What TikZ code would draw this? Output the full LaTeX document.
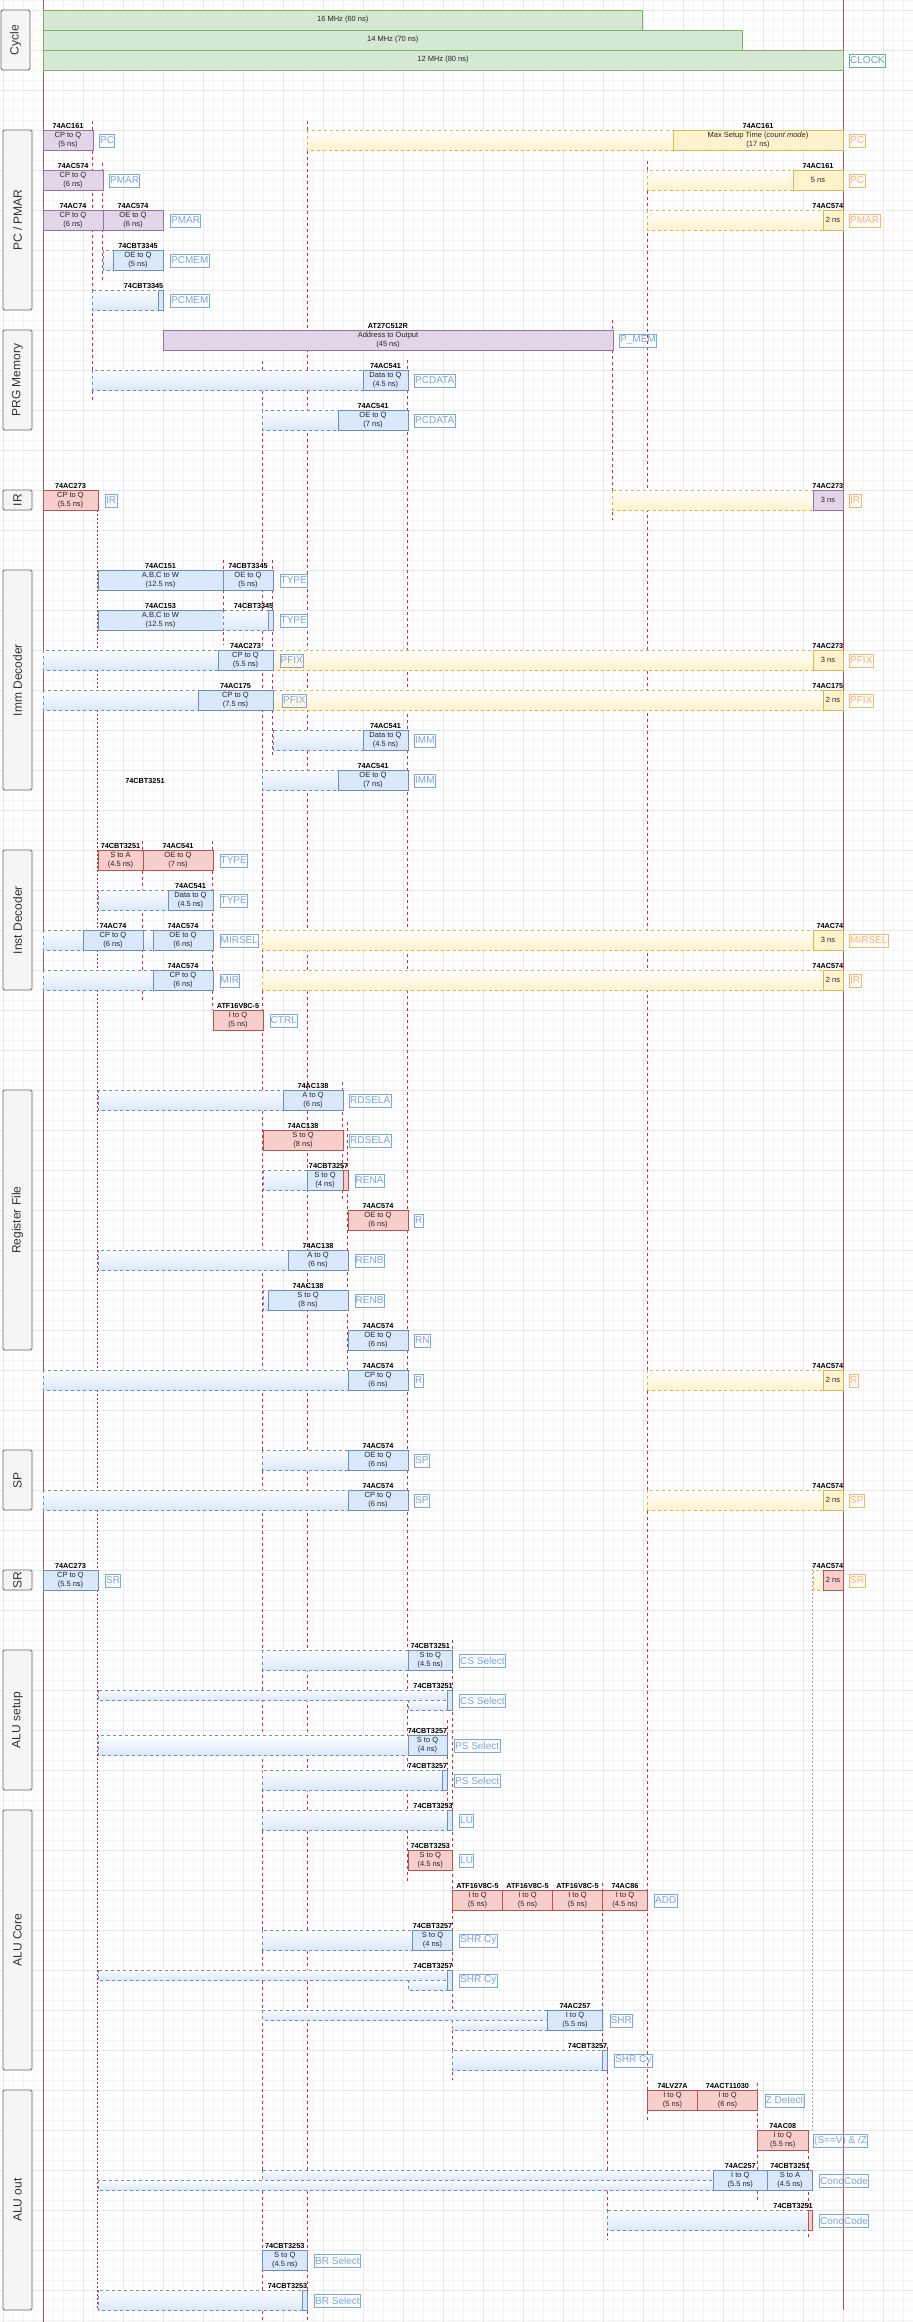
\documentclass[tikz,border=0pt]{standalone}
\usepackage{fontspec}
\setmainfont{Liberation Sans}
\setsansfont{Liberation Sans}
\definecolor{bfill}{HTML}{DAE8FC}\definecolor{bline}{HTML}{6C8EBF}
\definecolor{yfill}{HTML}{FFF2CC}\definecolor{yline}{HTML}{D6B656}
\definecolor{pfill}{HTML}{E1D5E7}\definecolor{pline}{HTML}{9673A6}
\definecolor{rfill}{HTML}{F8CECC}\definecolor{rline}{HTML}{B85450}
\definecolor{gfill}{HTML}{D5E8D4}\definecolor{gline}{HTML}{82B366}
\definecolor{lblue}{HTML}{7EA6E0}\definecolor{lorange}{HTML}{FFB570}
\definecolor{lteal}{HTML}{67AB9F}
\definecolor{lanefill}{HTML}{F5F5F5}\definecolor{laneline}{HTML}{666666}
\definecolor{lanetext}{HTML}{333333}
\definecolor{vred}{HTML}{D03030}
\tikzset{
  gminor/.style={draw=black!4, line width=0.5pt},
  gmajor/.style={draw=black!9, line width=0.6pt},
  tbx/.style={line width=0.8pt},
  boxbl/.style={fill=bfill, draw=bline},
  boxye/.style={fill=yfill, draw=yline},
  boxpu/.style={fill=pfill, draw=pline},
  boxre/.style={fill=rfill, draw=rline},
  boxgr/.style={fill=gfill, draw=gline},
  txt/.style={font=\fontsize{7.5}{9}\selectfont, align=center, inner sep=0pt, text=black!85},
  hdr/.style={font=\bfseries\fontsize{7.3}{8}\selectfont, inner sep=1pt, anchor=south},
  lab/.style={font=\fontsize{10}{11}\selectfont, inner xsep=0.8pt, inner ysep=0pt, minimum height=13pt, line width=0.8pt, anchor=west},
  lanebox/.style={draw=laneline, fill=lanefill, rounded corners=1.5pt, line width=0.9pt},
  lanetxt/.style={rotate=90, font=\fontsize{12}{14}\selectfont, text=lanetext},
  vl/.style={draw=vred, dash pattern=on 3pt off 3pt, line width=0.5pt},
  vthin/.style={draw=vred!80!black, dash pattern=on 2pt off 2pt, line width=0.4pt},
  vlight/.style={draw=black!35, dash pattern=on 2pt off 2pt, line width=0.4pt},
  redsolid/.style={draw=rline, line width=0.9pt},
}
\newcounter{nd}
% box with centred header: style, x1, x2, y, header, text
\newcommand{\tb}[6]{\stepcounter{nd}%
  \draw[#1, tbx] (#2,#4) rectangle (#3,#4+20);
  \node[txt] (b\arabic{nd}) at ({(#2+#3)/2},#4+10) {#6};
  \node[hdr] (h\arabic{nd}) at ({(#2+#3)/2},#4) {#5};}
% box with right-aligned header
\newcommand{\tbr}[6]{\stepcounter{nd}%
  \draw[#1, tbx] (#2,#4) rectangle (#3,#4+20);
  \node[txt] (b\arabic{nd}) at ({(#2+#3)/2},#4+10) {#6};
  \node[hdr, anchor=south east] (h\arabic{nd}) at (#3+1.5,#4) {#5};}
% box without header
\newcommand{\tbn}[5]{\stepcounter{nd}%
  \draw[#1, tbx] (#2,#4) rectangle (#3,#4+20);
  \node[txt] (b\arabic{nd}) at ({(#2+#3)/2},#4+10) {#5};}
% thin box, right aligned header
\newcommand{\thinbox}[5]{\stepcounter{nd}%
  \draw[#1, tbx] (#2,#4) rectangle (#3,#4+20);
  \node[hdr, anchor=south east] (h\arabic{nd}) at (#3+1.5,#4) {#5};}
% dashed gradient region: colour prefix, x1, x2, y1, y2
\newcommand{\rg}[5]{%
  \shade[top color=white, bottom color=#1fill] (#2,#4) rectangle (#3,#5);
  \draw[#1line, dash pattern=on 3pt off 3pt, line width=0.7pt] (#2,#4) rectangle (#3,#5);}
% label: colour, x, row top, text
\newcommand{\lb}[4]{\stepcounter{nd}%
  \node[lab, draw=#1, text=#1] (l\arabic{nd}) at (#2,#3+10.5) {#4};}
% lane: x1, x2, y1, y2, text
\newcommand{\lane}[5]{\stepcounter{nd}%
  \draw[lanebox] (#1,#3) rectangle (#2,#4);
  \node[lanetxt] (n\arabic{nd}) at ({(#1+#2)/2},{(#3+#4)/2}) {#5};}
\newcommand{\vl}[3]{\draw[vl] (#1,#2) -- (#1,#3);}
\begin{document}
\begin{tikzpicture}[x=1pt,y=-1pt]
\useasboundingbox (0,0) rectangle (913,2322);
\fill[white] (0,0) rectangle (913,2322);
% grid
\foreach \x in {3,13,...,913} \draw[gminor] (\x,0) -- (\x,2322);
\foreach \y in {0,10,...,2320} \draw[gminor] (0,\y) -- (913,\y);
\foreach \x in {3,43,...,903} \draw[gmajor] (\x,0) -- (\x,2322);
\foreach \y in {10,50,...,2310} \draw[gmajor] (0,\y) -- (913,\y);
% vertical marker lines
\vl{92.5}{121}{400}
\vl{102.5}{163}{280}
\vl{142.5}{841}{1000}
\vl{212.5}{841}{1010}
\vl{223}{560}{645}
\vl{262.5}{361}{2322}
\vl{272.5}{560}{755}
\vl{307}{121}{2322}
\vl{342.5}{1082}{1200}
\vl{347.5}{1122}{1370}
\vl{407.5}{360}{1882}
\vl{447}{1720}{1832}
\vl{452.5}{1640}{2080}
\vl{602.5}{1883}{2070}
\vl{607}{2047}{2240}
\vl{612.5}{320}{520}
\vl{647.5}{161}{2120}
\vl{757.5}{2083}{2200}
\vl{808}{2150}{2240}
\draw[vthin] (97.5,510) -- (97.5,2310);
\draw[vlight] (812.5,1565) -- (812.5,2130);
\draw[redsolid] (43,0) -- (43,2322);
\draw[redsolid] (843,0) -- (843,2310);
% lanes
\lane{1}{30}{10}{70}{Cycle}
\lane{3}{32}{130}{310}{PC / PMAR}
\lane{3}{32}{330}{430}{PRG Memory}
\lane{3}{32}{490}{510}{IR}
\lane{3}{32}{570}{790}{Imm Decoder}
\lane{3}{32}{850}{990}{Inst Decoder}
\lane{3}{32}{1090}{1350}{Register File}
\lane{3}{32}{1450}{1510}{SP}
\lane{3}{32}{1570}{1590}{SR}
\lane{3}{32}{1650}{1790}{ALU setup}
\lane{3}{32}{1810}{2070}{ALU Core}
\lane{3}{32}{2090}{2310}{ALU out}
% clock
\tbn{boxgr}{43}{642.5}{10}{16 MHz (60 ns)}
\tbn{boxgr}{43}{742.5}{30}{14 MHz (70 ns)}
\tbn{boxgr}{43}{843}{50}{12 MHz (80 ns)}
\lb{lteal}{849}{50}{CLOCK}
% PC / PMAR
\tb{boxpu}{43}{93}{130}{74AC161}{CP to Q\\(5 ns)}
\rg{y}{307}{843}{130}{150}
\tb{boxye}{673}{843}{130}{74AC161}{Max Setup Time (\textit{count mode})\\(17 ns)}
\lb{lblue}{99}{130}{PC}
\lb{lorange}{849}{130}{PC}
\tb{boxpu}{43}{103}{170}{74AC574}{CP to Q\\(6 ns)}
\rg{y}{647.5}{843}{170}{190}
\tb{boxye}{793}{843}{170}{74AC161}{5 ns}
\lb{lblue}{109}{170}{PMAR}
\lb{lorange}{849}{170}{PC}
\tb{boxpu}{43}{103}{210}{74AC74}{CP to Q\\(6 ns)}
\tb{boxpu}{103}{163}{210}{74AC574}{OE to Q\\(6 ns)}
\rg{y}{647.5}{843}{210}{230}
\tbr{boxye}{823}{843}{210}{74AC574}{2 ns}
\lb{lblue}{170}{210}{PMAR}
\lb{lorange}{849}{210}{PMAR}
\rg{b}{103}{113}{250}{270}
\tb{boxbl}{113}{163}{250}{74CBT3345}{OE to Q\\(5 ns)}
\lb{lblue}{170}{250}{PCMEM}
\rg{b}{92.5}{158}{290}{310}
\thinbox{boxbl}{158}{163}{290}{74CBT3345}
\lb{lblue}{170}{290}{PCMEM}
% PRG memory
\tb{boxpu}{163}{613}{330}{AT27C512R}{Address to Output\\(45 ns)}
\lb{lblue}{619}{330}{P\_MEM}
\rg{b}{92.5}{363}{370}{390}
\tb{boxbl}{363}{408}{370}{74AC541}{Data to Q\\(4.5 ns)}
\lb{lblue}{414}{370}{PCDATA}
\rg{b}{262.5}{338}{410}{430}
\tb{boxbl}{338}{408}{410}{74AC541}{OE to Q\\(7 ns)}
\lb{lblue}{414}{410}{PCDATA}
% IR
\tb{boxre}{43}{98}{490}{74AC273}{CP to Q\\(5.5 ns)}
\rg{y}{612.5}{843}{490}{510}
\tbr{boxpu}{813}{843}{490}{74AC273}{3 ns}
\lb{lblue}{105}{490}{IR}
\lb{lorange}{849}{490}{IR}
% Imm decoder
\tb{boxbl}{98}{223}{570}{74AC151}{A,B,C to W\\(12.5 ns)}
\tb{boxbl}{223}{273}{570}{74CBT3345}{OE to Q\\(5 ns)}
\lb{lblue}{279.5}{570}{TYPE}
\tb{boxbl}{98}{223}{610}{74AC153}{A,B,C to W\\(12.5 ns)}
\rg{b}{223}{268}{610}{630}
\thinbox{boxbl}{268}{273}{610}{74CBT3345}
\lb{lblue}{279.5}{610}{TYPE}
\rg{b}{43}{218}{650}{670}
\rg{y}{273}{843}{650}{670}
\tb{boxbl}{218}{273}{650}{74AC273}{CP to Q\\(5.5 ns)}
\tbr{boxye}{813}{843}{650}{74AC273}{3 ns}
\lb{lblue}{279.5}{650}{PFIX}
\lb{lorange}{849}{650}{PFIX}
\rg{b}{43}{198}{690}{710}
\rg{y}{273}{843}{690}{710}
\tb{boxbl}{198}{273}{690}{74AC175}{CP to Q\\(7.5 ns)}
\tbr{boxye}{823}{843}{690}{74AC175}{2 ns}
\lb{lblue}{282}{690}{PFIX}
\lb{lorange}{849}{690}{PFIX}
\rg{b}{273}{363}{730}{750}
\tb{boxbl}{363}{408}{730}{74AC541}{Data to Q\\(4.5 ns)}
\lb{lblue}{414}{730}{IMM}
\rg{b}{262.5}{338}{770}{790}
\tb{boxbl}{338}{408}{770}{74AC541}{OE to Q\\(7 ns)}
\lb{lblue}{414}{770}{IMM}
\node[hdr, anchor=center] (orph) at (145,781) {74CBT3251};
% Inst decoder
\tb{boxre}{98}{143}{850}{74CBT3251}{S to A\\(4.5 ns)}
\tb{boxre}{143}{213}{850}{74AC541}{OE to Q\\(7 ns)}
\lb{lblue}{219.5}{850}{TYPE}
\rg{b}{98}{168}{890}{910}
\tb{boxbl}{168}{213}{890}{74AC541}{Data to Q\\(4.5 ns)}
\lb{lblue}{219.5}{890}{TYPE}
\rg{b}{43}{153}{930}{950}
\rg{y}{262.5}{843}{930}{950}
\tb{boxbl}{83}{143}{930}{74AC74}{CP to Q\\(6 ns)}
\tb{boxbl}{153}{213}{930}{74AC574}{OE to Q\\(6 ns)}
\tbr{boxye}{813}{843}{930}{74AC74}{3 ns}
\lb{lblue}{219.5}{930}{MIRSEL}
\lb{lorange}{849}{930}{MIRSEL}
\rg{b}{43}{153}{970}{990}
\rg{y}{262.5}{843}{970}{990}
\tb{boxbl}{153}{213}{970}{74AC574}{CP to Q\\(6 ns)}
\tbr{boxye}{823}{843}{970}{74AC574}{2 ns}
\lb{lblue}{219.5}{970}{MIR}
\lb{lorange}{849}{970}{IR}
\tb{boxre}{213}{263}{1010}{ATF16V8C-5}{I to Q\\(5 ns)}
\lb{lblue}{269.5}{1010}{CTRL}
% Register file
\rg{b}{98}{283}{1090}{1110}
\tb{boxbl}{283}{343}{1090}{74AC138}{A to Q\\(6 ns)}
\lb{lblue}{349}{1090}{RDSELA}
\tb{boxre}{263}{343}{1130}{74AC138}{S to Q\\(8 ns)}
\lb{lblue}{349}{1130}{RDSELA}
\rg{b}{263}{307}{1170}{1190}
\tbn{boxbl}{307}{343}{1170}{S to Q\\(4 ns)}
\thinbox{boxre}{343}{348}{1170}{74CBT3257}
\lb{lblue}{354.5}{1170}{RENA}
\tb{boxre}{348}{408}{1210}{74AC574}{OE to Q\\(6 ns)}
\lb{lblue}{414}{1210}{R}
\rg{b}{98}{288}{1250}{1270}
\tb{boxbl}{288}{348}{1250}{74AC138}{A to Q\\(6 ns)}
\lb{lblue}{354.5}{1250}{RENB}
\rg{b}{263}{268}{1290}{1310}
\tb{boxbl}{268}{348}{1290}{74AC138}{S to Q\\(8 ns)}
\lb{lblue}{354.5}{1290}{RENB}
\tb{boxbl}{348}{408}{1330}{74AC574}{OE to Q\\(6 ns)}
\lb{lblue}{414}{1330}{RN}
\rg{b}{43}{348}{1370}{1390}
\rg{y}{647.5}{843}{1370}{1390}
\tb{boxbl}{348}{408}{1370}{74AC574}{CP to Q\\(6 ns)}
\tbr{boxye}{823}{843}{1370}{74AC574}{2 ns}
\lb{lblue}{414}{1370}{R}
\lb{lorange}{849}{1370}{R}
% SP
\rg{b}{262.5}{348}{1450}{1470}
\tb{boxbl}{348}{408}{1450}{74AC574}{OE to Q\\(6 ns)}
\lb{lblue}{414}{1450}{SP}
\rg{b}{43}{348}{1490}{1510}
\rg{y}{647.5}{843}{1490}{1510}
\tb{boxbl}{348}{408}{1490}{74AC574}{CP to Q\\(6 ns)}
\tbr{boxye}{823}{843}{1490}{74AC574}{2 ns}
\lb{lblue}{414}{1490}{SP}
\lb{lorange}{849}{1490}{SP}
% SR
\tb{boxbl}{43}{98}{1570}{74AC273}{CP to Q\\(5.5 ns)}
\rg{y}{813}{823}{1570}{1590}
\tbr{boxre}{823}{843}{1570}{74AC574}{2 ns}
\lb{lblue}{105}{1570}{SR}
\lb{lorange}{849}{1570}{SR}
% ALU setup
\rg{b}{262.5}{408}{1650}{1670}
\tb{boxbl}{408}{452.5}{1650}{74CBT3251}{S to Q\\(4.5 ns)}
\lb{lblue}{459}{1650}{CS Select}
\rg{b}{98}{447}{1690}{1700}
\rg{b}{408}{447}{1700}{1710}
\thinbox{boxbl}{447}{452.5}{1690}{74CBT3251}
\lb{lblue}{459}{1690}{CS Select}
\rg{b}{98}{408}{1735}{1755}
\tb{boxbl}{408}{447}{1735}{74CBT3257}{S to Q\\(4 ns)}
\lb{lblue}{454}{1735}{PS Select}
\rg{b}{262.5}{442.5}{1770}{1790}
\thinbox{boxbl}{442.5}{447}{1770}{74CBT3257}
\lb{lblue}{454}{1770}{PS Select}
% ALU core
\rg{b}{262.5}{447}{1810}{1830}
\thinbox{boxbl}{447}{452.5}{1810}{74CBT3253}
\lb{lblue}{459}{1810}{LU}
\tb{boxre}{408}{452.5}{1850}{74CBT3253}{S to Q\\(4.5 ns)}
\lb{lblue}{459}{1850}{LU}
\tb{boxre}{452.5}{502.5}{1890}{ATF16V8C-5}{I to Q\\(5 ns)}
\tb{boxre}{502.5}{552.5}{1890}{ATF16V8C-5}{I to Q\\(5 ns)}
\tb{boxre}{552.5}{602.5}{1890}{ATF16V8C-5}{I to Q\\(5 ns)}
\tb{boxre}{602.5}{647.5}{1890}{74AC86}{I to Q\\(4.5 ns)}
\lb{lblue}{654}{1890}{ADD}
\rg{b}{262.5}{412.5}{1930}{1950}
\tb{boxbl}{412.5}{452.5}{1930}{74CBT3257}{S to Q\\(4 ns)}
\lb{lblue}{459}{1930}{SHR Cy}
\rg{b}{98}{447}{1970}{1980}
\rg{b}{408}{447}{1980}{1990}
\thinbox{boxbl}{447}{452.5}{1970}{74CBT3257}
\lb{lblue}{459}{1970}{SHR Cy}
\rg{b}{262.5}{547.5}{2010}{2020}
\rg{b}{452.5}{547.5}{2020}{2030}
\tb{boxbl}{547.5}{602.5}{2010}{74AC257}{I to Q\\(5.5 ns)}
\lb{lblue}{609.5}{2010}{SHR}
\rg{b}{452.5}{602.5}{2050}{2070}
\thinbox{boxbl}{602.5}{607}{2050}{74CBT3257}
\lb{lblue}{614}{2050}{SHR Cy}
% ALU out
\tb{boxre}{647.5}{697.5}{2090}{74LV27A}{I to Q\\(5 ns)}
\tb{boxre}{697.5}{757.5}{2090}{74ACT11030}{I to Q\\(6 ns)}
\lb{lblue}{764.5}{2090}{Z Detect}
\tb{boxre}{757.5}{808}{2130}{74AC08}{I to Q\\(5.5 ns)}
\lb{lblue}{813}{2130}{(S==V) \& /Z}
\rg{b}{262.5}{713}{2170}{2180}
\rg{b}{98}{713}{2180}{2190}
\tb{boxbl}{713}{767.5}{2170}{74AC257}{I to Q\\(5.5 ns)}
\tb{boxbl}{767.5}{812.5}{2170}{74CBT3251}{S to A\\(4.5 ns)}
\lb{lblue}{819}{2170}{CondCode}
\rg{b}{607}{808}{2210}{2230}
\thinbox{boxre}{808}{812.5}{2210}{74CBT3251}
\lb{lblue}{819}{2210}{CondCode}
\tb{boxbl}{262.5}{307}{2250}{74CBT3253}{S to Q\\(4.5 ns)}
\lb{lblue}{314}{2250}{BR Select}
\rg{b}{98}{302.5}{2290}{2310}
\thinbox{boxbl}{302.5}{307}{2290}{74CBT3253}
\lb{lblue}{314}{2290}{BR Select}
\end{tikzpicture}
\end{document}
